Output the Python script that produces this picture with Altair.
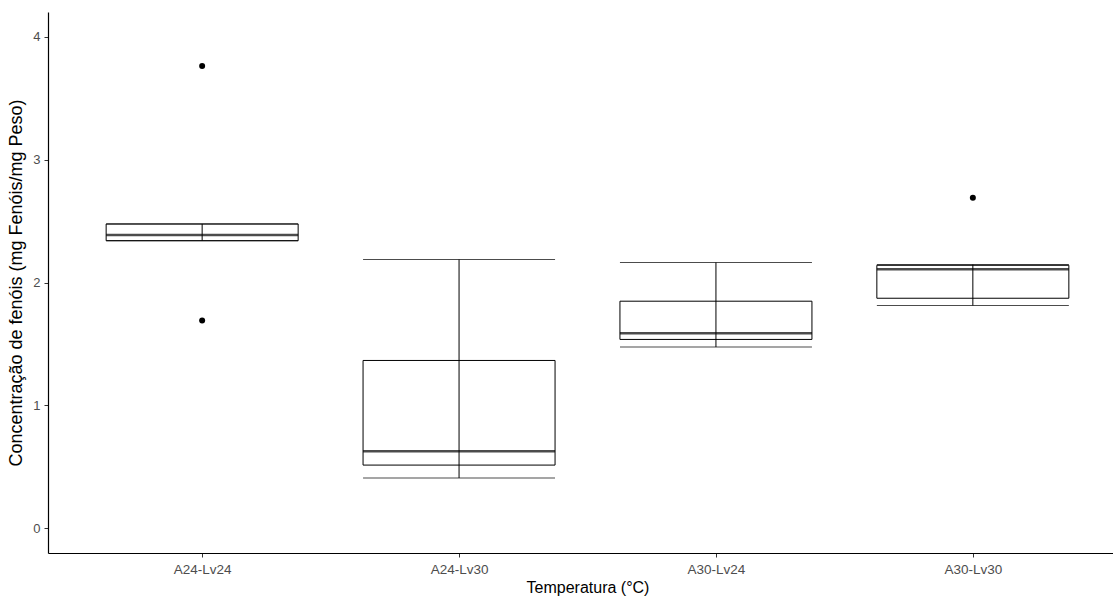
import altair as alt
import pandas as pd

# Boxplot summary per treatment
categories = ["A24-Lv24", "A24-Lv30", "A30-Lv24", "A30-Lv30"]
whisker_low = [2.34, 0.41, 1.475, 1.813]
q1 = [2.34, 0.515, 1.537, 1.872]
median = [2.386, 0.628, 1.588, 2.108]
q3 = [2.476, 1.366, 1.848, 2.14]
whisker_high = [2.476, 2.187, 2.163, 2.146]

# Points outside the whiskers
outlier_cat = ["A24-Lv24", "A24-Lv24", "A30-Lv30"]
outlier_val = [3.76, 1.69, 2.69]

stats = pd.DataFrame({
    "trat": categories, "lo": whisker_low, "q1": q1,
    "med": median, "q3": q3, "hi": whisker_high,
})
outliers = pd.DataFrame({"trat": outlier_cat, "val": outlier_val})

font = "Liberation Sans"
x_enc = alt.X(
    "trat:N", sort=categories, title="Temperatura (°C)",
    scale=alt.Scale(type="point", range=[0, 1079], padding=0.6),
    axis=alt.Axis(labelAngle=0, labelPadding=5, titlePadding=4,
                  labelFontSize=13.5, titleFontSize=16),
)
y_scale = alt.Scale(domain=[-0.2, 4.2], nice=False, zero=False)
y_axis = alt.Axis(values=[0, 1, 2, 3, 4], format="d", labelPadding=4,
                  titlePadding=7, labelFontSize=13, titleFontSize=18)

box_w = 192
base = alt.Chart(stats)

box = base.mark_bar(size=box_w, fill="white", stroke="black", strokeWidth=1).encode(
    x=x_enc,
    y=alt.Y("q1:Q", scale=y_scale, axis=y_axis,
            title="Concentração de fenóis (mg Fenóis/mg Peso)"),
    y2="q3:Q",
)
whisker = base.mark_rule(color="black", strokeWidth=1).encode(
    x=x_enc, y=alt.Y("lo:Q", scale=y_scale), y2="hi:Q"
)
cap_lo = base.mark_tick(size=box_w, thickness=1, color="black").encode(
    x=x_enc, y=alt.Y("lo:Q", scale=y_scale)
)
cap_hi = base.mark_tick(size=box_w, thickness=1, color="black").encode(
    x=x_enc, y=alt.Y("hi:Q", scale=y_scale)
)
med = base.mark_tick(size=box_w, thickness=2.5, color="black").encode(
    x=x_enc, y=alt.Y("med:Q", scale=y_scale)
)
pts = alt.Chart(outliers).mark_circle(size=36, color="black", opacity=1).encode(
    x=x_enc, y=alt.Y("val:Q", scale=y_scale)
)

chart = (
    alt.layer(box, whisker, cap_lo, cap_hi, med, pts)
    .properties(
        width=1065, height=541,
        autosize=alt.AutoSizeParams(type="none"),
        padding={"left": 48, "top": 12, "right": 0, "bottom": 44},
    )
    .configure_view(stroke=None)
    .configure_axis(
        grid=False, domainColor="black", domainWidth=1.2,
        tickColor="#333333", tickSize=4, tickWidth=1,
        labelColor="#4D4D4D", labelFont=font,
        titleColor="black", titleFont=font, titleFontWeight="normal",
    )
)

chart.save("out.html", embed_options={"renderer": "svg", "actions": False})
